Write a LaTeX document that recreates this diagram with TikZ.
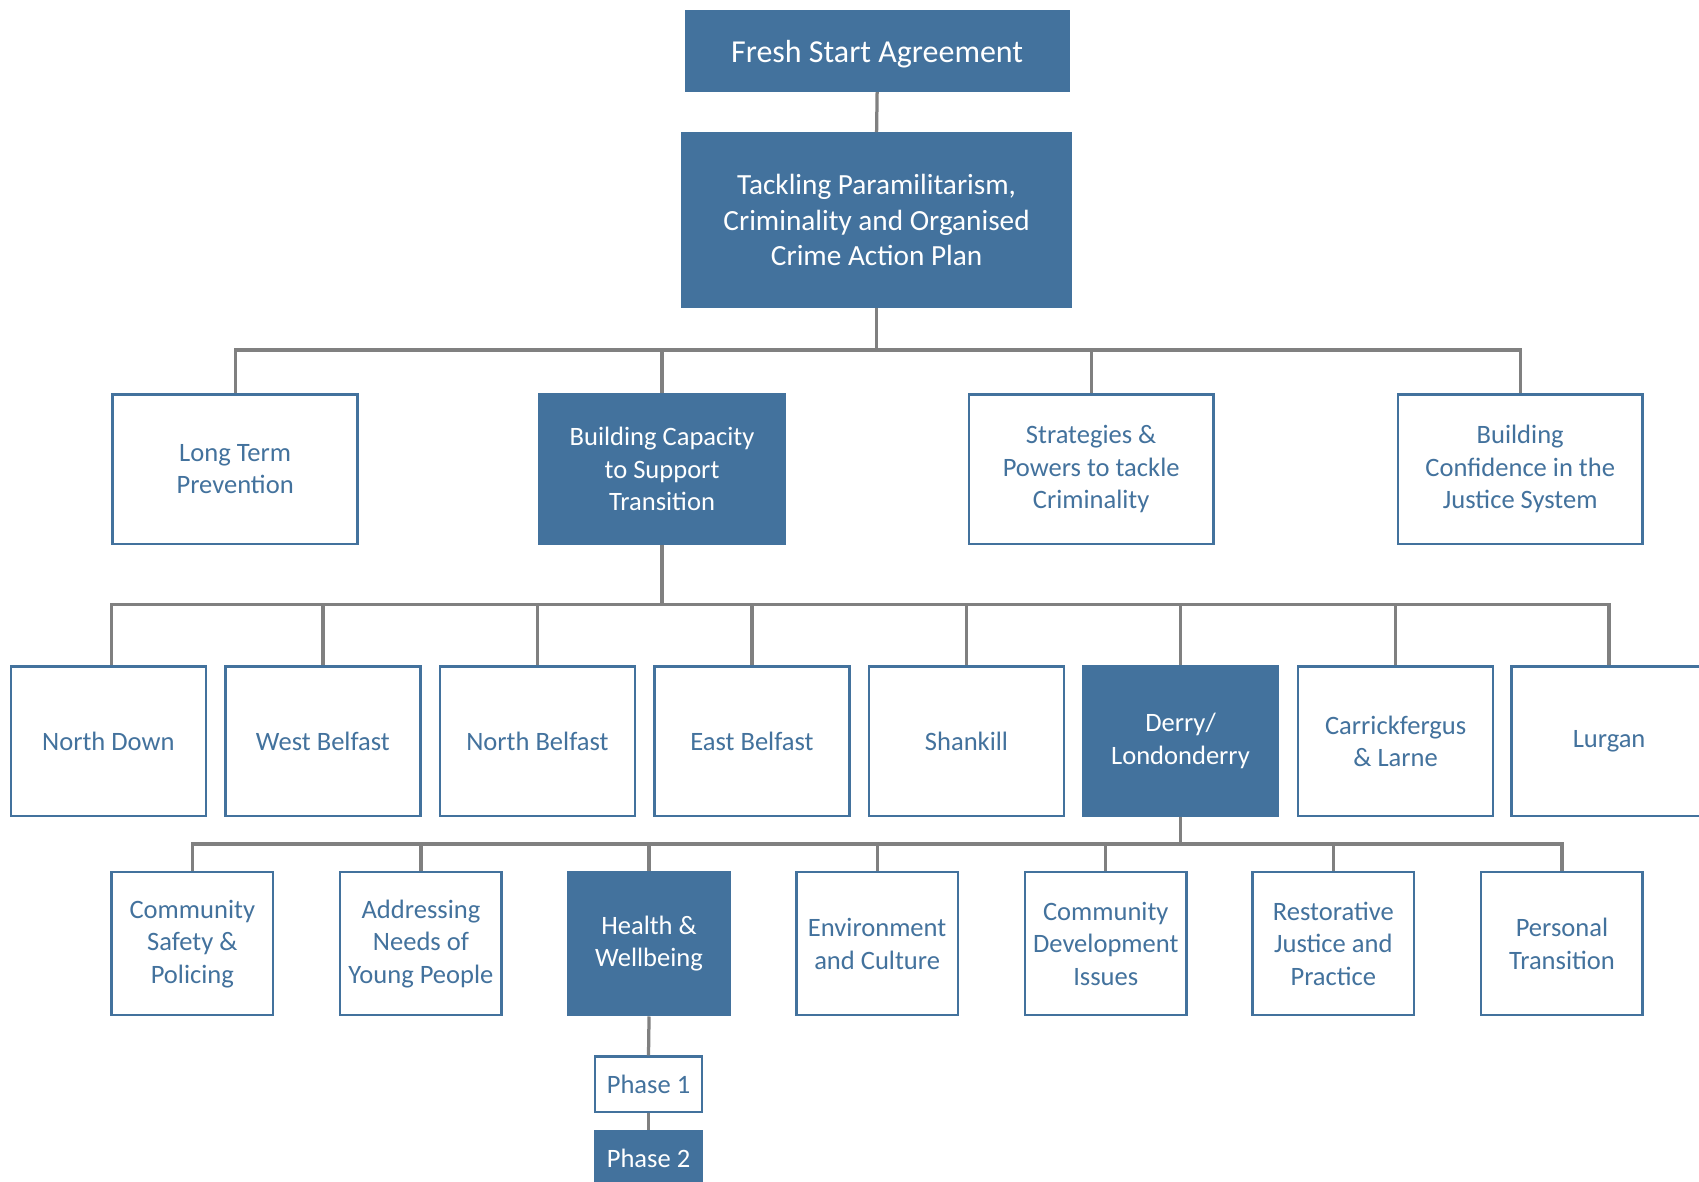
\documentclass[tikz,border=0pt]{standalone}
\usepackage{fontspec}
\setmainfont{Carlito}
\definecolor{nodeblue}{RGB}{67,114,157}
\definecolor{linegray}{RGB}{128,128,128}
\begin{document}
\begin{tikzpicture}[x=1pt,y=-1pt,
  base/.style={rectangle, inner sep=0pt, align=center, line width=2.2pt},
  whitebox/.style={base, draw=nodeblue, fill=white, text=nodeblue},
  bluebox/.style={base, draw=nodeblue, fill=nodeblue, text=white},
  conn/.style={draw=linegray, line width=3pt, line join=miter},
  ftext/.style={font=\fontsize{24.5}{30}\selectfont},
  ltwo/.style={minimum width=226pt, minimum height=138pt, ftext},
  lthree/.style={minimum width=180pt, minimum height=138pt, ftext},
  lfour/.style={minimum width=149pt, minimum height=132pt, ftext},
  phase/.style={minimum width=99pt, minimum height=51pt, ftext}]
\useasboundingbox (0,0) rectangle (1568,1090);

% top
\node[bluebox, minimum width=353pt, minimum height=74pt, font=\fontsize{29.5}{34}\selectfont, text height=28pt, text depth=6pt] (fresh) at (809.5,47) {Fresh Start Agreement};
\node[bluebox, minimum width=358pt, minimum height=160pt, font=\fontsize{27}{33}\selectfont] (tack) at (809,203) {Tackling Paramilitarism,\\Criminality and Organised\\Crime Action Plan};

% level 2
\node[whitebox, ltwo] (lt) at (217,433) {Long Term\\Prevention};
\node[bluebox, ltwo] (bc) at (611,433) {Building Capacity\\to Support\\Transition};
\node[whitebox, ltwo] (sp) at (1007,433) {Strategies \&\\Powers to tackle\\Criminality};
\node[whitebox, ltwo] (cj) at (1403,433) {Building\\Confidence in the\\Justice System};

% level 3
\node[whitebox, lthree] (nd) at (100,684) {North Down};
\node[whitebox, lthree] (wb) at (298,684) {West Belfast};
\node[whitebox, lthree] (nb) at (496,684) {North Belfast};
\node[whitebox, lthree] (eb) at (694,684) {East Belfast};
\node[whitebox, lthree] (sh) at (892,684) {Shankill};
\node[bluebox, lthree] (dl) at (1089.5,684) {Derry/\\Londonderry};
\node[whitebox, lthree] (cf) at (1288,684) {Carrickfergus\\\& Larne};
\node[whitebox, lthree] (lu) at (1485,684) {Lurgan};

% level 4
\node[whitebox, lfour] (cs) at (177.5,871) {Community\\Safety \&\\Policing};
\node[whitebox, lfour] (yp) at (388.5,871) {Addressing\\Needs of\\Young People};
\node[bluebox, lfour] (hw) at (599,871) {Health \&\\Wellbeing};
\node[whitebox, lfour] (ec) at (809.5,871) {Environment\\and Culture};
\node[whitebox, lfour] (cd) at (1020.5,871) {Community\\Development\\Issues};
\node[whitebox, lfour] (rj) at (1230.5,871) {Restorative\\Justice and\\Practice};
\node[whitebox, lfour] (pt) at (1441.5,871) {Personal\\Transition};

% phases
\node[whitebox, phase] (p1) at (598.5,1000.5) {Phase 1};
\node[bluebox, phase] (p2) at (598.5,1069.5) {Phase 2};

% bus coordinates
\coordinate (bus1) at (809,323);
\coordinate (bus2) at (611,558);
\coordinate (bus3) at (1089.5,779);

% connectors
\draw[conn] (fresh.south) -- (tack.north);
\foreach \c in {lt,bc,sp,cj}
  \draw[conn] (tack.south) -- (bus1) -| (\c.north);
\draw[conn] (bc.south) -- (bus2) -| ([xshift=3pt]nd.north);
\foreach \c in {wb,nb,eb,sh,dl,cf,lu}
  \draw[conn] (bc.south) -- (bus2) -| (\c.north);
\foreach \c in {cs,yp,hw,ec,cd,rj,pt}
  \draw[conn] (dl.south) -- (bus3) -| (\c.north);
\draw[conn] (hw.south) -- (p1.north);
\draw[conn] (p1.south) -- (p2.north);
\end{tikzpicture}
\end{document}
